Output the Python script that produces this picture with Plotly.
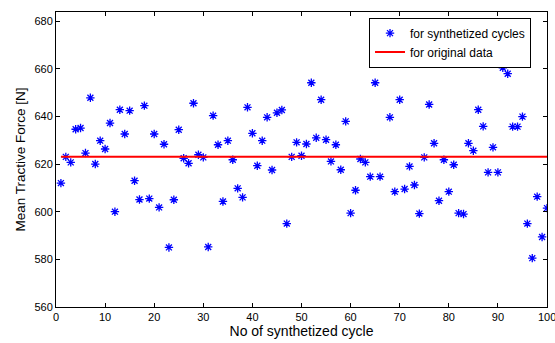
import plotly.graph_objects as go

cycles = list(range(1, 101))
mean_force = [
    612, 623, 620.7, 634.6, 635.1, 624.6, 647.8, 620, 629.8, 626.3,
    637.2, 600, 642.8, 632.6, 642.4, 613, 605.1, 644.5, 605.5, 632.6,
    601.8, 628.3, 585, 605, 634.4, 622.4, 620.3, 645.5, 623.9, 622.8,
    585.2, 640.3, 628.1, 604.3, 629.8, 621.8, 609.8, 606, 643.8, 632.9,
    619.3, 629.8, 639.6, 617.5, 641.5, 642.7, 595, 623, 629.1, 623.5,
    628.4, 654.1, 631, 647, 630.2, 621.1, 628.1, 617.6, 637.9, 599.4,
    609, 622.1, 620.7, 614.7, 654.1, 614.7, 668, 639.6, 608.4, 647,
    609.5, 619, 611.2, 599.2, 622.8, 645, 628.7, 604.6, 621.8, 608.4,
    619.7, 599.4, 599, 628.7, 625.6, 642.8, 635.8, 616.5, 627, 616.5,
    660.4, 657.9, 635.7, 635.7, 639.9, 595, 580.5, 606.3, 589.4, 601.5,
]
original_mean = 623.1

x_ticks = list(range(0, 101, 10))
x_ticktext = [str(v) for v in x_ticks[:-1]] + [""]
last_x_label = str(x_ticks[-1])
y_ticks = list(range(560, 681, 20))

FONT = "Liberation Sans, Arial, sans-serif"

fig = go.Figure()
fig.add_trace(go.Scatter(
    x=cycles, y=mean_force, mode="markers",
    name="for synthetized cycles",
    marker=dict(symbol="asterisk-open", size=7, color="#0000ff",
                line=dict(color="#0000ff", width=1.3)),
))
fig.add_trace(go.Scatter(
    x=[cycles[0], cycles[-1]], y=[original_mean, original_mean], mode="lines",
    name="for original data",
    line=dict(color="#ff0000", width=2),
))

axis_common = dict(
    showline=True, linecolor="black", linewidth=1, mirror="ticks",
    ticks="inside", ticklen=4, tickcolor="black", showgrid=False,
    zeroline=False, tickfont=dict(family=FONT, size=11, color="black"),
)
fig.update_xaxes(range=[0, 100], tickvals=x_ticks, ticktext=x_ticktext,
                 title=dict(text="No of synthetized cycle",
                            font=dict(family=FONT, size=14, color="black"),
                            standoff=3),
                 **axis_common)
fig.update_yaxes(range=[560, 683.8], tickvals=y_ticks,
                 title=dict(text="Mean Tractive Force [N]",
                            font=dict(family=FONT, size=13.5, color="black"),
                            standoff=5),
                 **axis_common)

fig.add_annotation(x=x_ticks[-1], xref="x", y=0, yref="paper",
                   text=last_x_label, showarrow=False,
                   xanchor="center", yanchor="top", yshift=-2,
                   font=dict(family=FONT, size=11, color="black"))

fig.update_layout(
    width=555, height=343,
    margin=dict(l=56, r=8, t=12, b=36),
    paper_bgcolor="white", plot_bgcolor="white",
    font=dict(family=FONT, size=11, color="black"),
    showlegend=True,
    legend=dict(x=0.6375, y=0.981, xanchor="left", yanchor="top",
                bgcolor="white", bordercolor="black", borderwidth=1,
                font=dict(family=FONT, size=12, color="black"),
                tracegroupgap=0, itemwidth=30),
)

fig.write_html("out.html")
